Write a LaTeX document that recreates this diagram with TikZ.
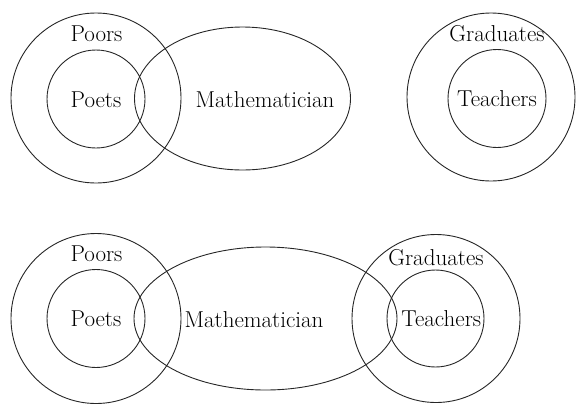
\documentclass[tikz,border=0pt]{standalone}
\usetikzlibrary{shapes.geometric}
\begin{document}
\begin{tikzpicture}[x=1pt,y=-1pt,
  setline/.style={draw=black!85,line width=0.9pt},
  ring/.style={setline,circle,inner sep=0pt,minimum size=#1},
  oval/.style={setline,ellipse,inner sep=0pt},
  lbl/.style={anchor=base,inner sep=0pt,font=\fontsize{23}{27}\selectfont}]
\useasboundingbox (0,0) rectangle (577,405);
% top group
\node[ring=170pt] (poorsA) at (96,98) {};
\node[ring=98pt] (poetsA) at (96,99) {};
\node[oval,minimum width=216pt,minimum height=143pt] (mathA) at (242.5,98.5) {};
\node[ring=168pt] (gradA) at (491,97) {};
\node[ring=98pt] (teachA) at (497,98.5) {};
\node[lbl] (tPoorsA) at (96.5,41) {Poors};
\node[lbl] (tPoetsA) at (96,107) {Poets};
\node[lbl] (tMathA) at (265,107) {Mathematician};
\node[lbl] (tGradA) at (497,41.5) {Graduates};
\node[lbl] (tTeachA) at (497,106.7) {Teachers};
% bottom group
\node[ring=170pt] (poorsB) at (96,318.5) {};
\node[ring=98pt] (poetsB) at (96,318.5) {};
\node[oval,minimum width=263pt,minimum height=143pt] (mathB) at (265.5,318.5) {};
\node[ring=168pt] (gradB) at (436,318.5) {};
\node[ring=97pt] (teachB) at (435.5,318.5) {};
\node[lbl] (tPoorsB) at (96.5,261.7) {Poors};
\node[lbl] (tPoetsB) at (96,326.7) {Poets};
\node[lbl] (tMathB) at (254,327) {Mathematician};
\node[lbl] (tGradB) at (436,265) {Graduates};
\node[lbl] (tTeachB) at (441.3,326.7) {Teachers};
\end{tikzpicture}
\end{document}
